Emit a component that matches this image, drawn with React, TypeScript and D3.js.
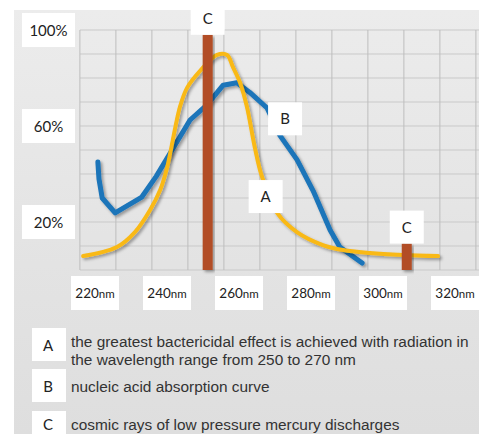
import * as d3 from "d3";

// wavelength axis labels (nm) and percentage labels
const xTicks = [220, 240, 260, 280, 300, 320];
const yTicks = [100, 60, 20];

// curve A: bactericidal effect [nm, %]
const curveA: [number, number][] = [
  [216.7, 5.8], [226.1, 9.6], [231.1, 15.8], [235.3, 25], [238.1, 33.3],
  [240, 42.5], [243.6, 68], [245.6, 76], [249.2, 83], [253.9, 89.6],
  [256.7, 89.6], [258.3, 84.6], [260.3, 78], [262.2, 68], [264.4, 51],
  [266.4, 38.8], [270.6, 23.8], [276.1, 15.8], [283.3, 10.4], [288.9, 8.3],
  [296.4, 7.1], [305.6, 6.3], [315.3, 5.8],
];

// curve B: nucleic acid absorption [nm, %]
const curveB: [number, number][] = [
  [220.8, 45], [221.1, 38], [222, 30], [225.6, 23.8], [233, 30.4],
  [237, 39], [241.4, 50], [246.4, 62.5], [251.1, 68.8], [255.6, 77],
  [259.4, 78], [263, 74], [267.8, 67.5], [271.4, 56], [276.1, 46],
  [280.6, 33], [285.3, 16.7], [288, 9.6], [294.2, 2.9],
];

// mercury lines C [nm, %]
const cLines: [number, number][] = [
  [251.3, 98],
  [306.6, 11],
];

// in-chart letter tags [letter, nm, %]
const tags: [string, number, number][] = [
  ["B", 272.8, 63],
  ["A", 267.4, 30.6],
];

const legendLetters = ["A", "B", "C"];
const legendLines = [
  [
    "the greatest bactericidal effect is achieved with radiation in",
    "the wavelength range from 250 to 270 nm",
  ],
  ["nucleic acid absorption curve"],
  ["cosmic rays of low pressure mercury discharges"],
];

const W = 479;
const H = 434;

export default function App() {
  const x = d3.scaleLinear().domain([220, 320]).range([95, 455]);
  const y = d3.scaleLinear().domain([0, 100]).range([270, 30]);

  const gridX = d3.range(215.8, 326, 10);
  const gridY = d3.range(0, 101, 10);

  const smooth = d3
    .line<[number, number]>()
    .x((d) => x(d[0]))
    .y((d) => y(d[1]))
    .curve(d3.curveCatmullRom.alpha(0.5));

  const straight = d3
    .line<[number, number]>()
    .x((d) => x(d[0]))
    .y((d) => y(d[1]));

  const labelFont = "Lato, 'Open Sans', sans-serif";
  const textFont = "'Liberation Sans', Arial, sans-serif";
  const boxH = 33;

  return (
    <svg
      width={W}
      height={H}
      style={{ position: "absolute", left: 0, top: 0, background: "#fff" }}
    >
      <defs>
        <linearGradient id="panel" x1="0" y1="0" x2="0" y2="1">
          <stop offset="0" stopColor="#ececec" />
          <stop offset="0.6" stopColor="#e3e3e3" />
          <stop offset="1" stopColor="#dedede" />
        </linearGradient>
        <filter id="shadow" x="-20%" y="-20%" width="140%" height="140%">
          <feDropShadow dx="2" dy="2" stdDeviation="1.5" floodColor="#000" floodOpacity="0.35" />
        </filter>
      </defs>

      <rect x={14} y={10} width={W - 14} height={H - 10} fill="url(#panel)" />

      {/* grid */}
      <g>
        {gridY.map((v) => (
          <line
            key={"h" + v}
            x1={80}
            x2={W}
            y1={y(v)}
            y2={y(v)}
            stroke="#c9c9c9"
            strokeWidth={1}
          />
        ))}
        {gridX.map((v) => (
          <line
            key={"v" + v}
            x1={x(v)}
            x2={x(v)}
            y1={y(100)}
            y2={y(0)}
            stroke="#bdbdbd"
            strokeWidth={1}
          />
        ))}
      </g>

      {/* curves */}
      <path
        d={straight(curveB) ?? ""}
        fill="none"
        stroke="#1b74b9"
        strokeWidth={5}
        strokeLinecap="round"
        strokeLinejoin="round"
        filter="url(#shadow)"
      />
      <path
        d={smooth(curveA) ?? ""}
        fill="none"
        stroke="#f9b916"
        strokeWidth={4}
        strokeLinecap="round"
        strokeLinejoin="round"
        filter="url(#shadow)"
      />

      {/* mercury lines */}
      {cLines.map(([nm, v], i) => (
        <g key={"c" + i}>
          <rect
            x={x(nm) - 5}
            y={y(v)}
            width={10}
            height={y(0) - y(v)}
            fill="#b24e25"
            filter="url(#shadow)"
          />
          <rect x={x(nm) - 17} y={y(v) - boxH} width={34} height={boxH} fill="#fff" />
          <text
            x={x(nm)}
            y={y(v) - boxH / 2 + 5.5}
            textAnchor="middle"
            fontFamily={labelFont}
            fontSize={15}
            fill="#222"
          >
            C
          </text>
        </g>
      ))}

      {/* letter tags */}
      {tags.map(([t, nm, v]) => (
        <g key={t}>
          <rect x={x(nm) - 17} y={y(v) - boxH / 2} width={34} height={boxH} fill="#fff" />
          <text
            x={x(nm)}
            y={y(v) + 5.5}
            textAnchor="middle"
            fontFamily={labelFont}
            fontSize={15}
            fill="#222"
          >
            {t}
          </text>
        </g>
      ))}

      {/* y labels */}
      {yTicks.map((v) => (
        <g key={"y" + v}>
          <rect x={22} y={y(v) - 17} width={53} height={34} fill="#fff" />
          <text
            x={48.5}
            y={y(v) + 5.5}
            textAnchor="middle"
            fontFamily={labelFont}
            fontSize={15}
            fill="#222"
          >
            {v}%
          </text>
        </g>
      ))}

      {/* x labels */}
      {xTicks.map((v) => (
        <g key={"x" + v}>
          <rect x={x(v) - 24} y={276} width={48} height={34} fill="#fff" />
          <text
            x={x(v)}
            y={297.5}
            textAnchor="middle"
            fontFamily={labelFont}
            fill="#222"
          >
            <tspan fontSize={13.5}>{v}</tspan>
            <tspan fontSize={11.5}>nm</tspan>
          </text>
        </g>
      ))}

      {/* legend */}
      {legendLetters.map((l, i) => {
        const top = [328, 369, 411][i];
        const base = [347, 392, 430][i];
        return (
          <g key={"lg" + l}>
            <rect x={32} y={top} width={34} height={boxH} fill="#fff" />
            <text
              x={48}
              y={i === 2 ? 430 : top + 23}
              textAnchor="middle"
              fontFamily={labelFont}
              fontSize={15}
              fill="#222"
            >
              {l}
            </text>
            <text
              x={71}
              y={base}
              fontFamily={textFont}
              fontSize={15.4}
              fill="#333"
            >
              {legendLines[i].map((s, j) => (
                <tspan key={j} x={71} dy={j === 0 ? 0 : 18}>
                  {s}
                </tspan>
              ))}
            </text>
          </g>
        );
      })}
    </svg>
  );
}
